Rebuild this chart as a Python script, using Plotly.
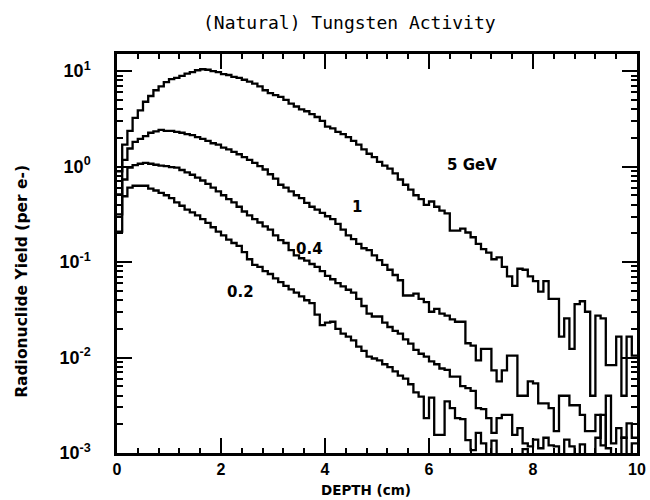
import math
import plotly.graph_objects as go

# Depth bins: 100 bins of 0.1 cm from 0 to 10 cm
bin_width = 0.1
n_bins = 100
depth_edges = [round(i * bin_width, 3) for i in range(n_bins + 1)]

# log10 of radionuclide yield (per e-) in each depth bin
log_yield_5gev = [
    -0.05, 0.23, 0.375, 0.51, 0.59, 0.68, 0.74, 0.80, 0.84, 0.885,
    0.917, 0.93, 0.95, 0.974, 0.99, 1.01, 1.02, 1.015, 1.00, 0.99,
    0.97, 0.96, 0.94, 0.93, 0.91, 0.89, 0.87, 0.84, 0.80, 0.77,
    0.75, 0.73, 0.70, 0.66, 0.63, 0.60, 0.58, 0.55, 0.52, 0.48,
    0.42, 0.40, 0.365, 0.34, 0.31, 0.27, 0.23, 0.18, 0.135, 0.10,
    0.05, 0.01, -0.02, -0.07, -0.135, -0.19, -0.24, -0.30, -0.34, -0.40,
    -0.365, -0.42, -0.46, -0.49, -0.67, -0.67, -0.65, -0.69, -0.74, -0.81,
    -0.865, -0.90, -0.97, -0.95, -1.05, -1.15, -1.25, -1.07, -1.08, -1.15,
    -1.20, -1.31, -1.20, -1.385, -1.385, -1.78, -1.59, -1.91, -1.44, -1.41,
    -1.52, -2.40, -1.56, -1.59, -2.08, -2.08, -1.78, -2.40, -1.78, -1.98,
]

log_yield_1gev = [
    -0.29, 0.07, 0.19, 0.26, 0.29, 0.32, 0.355, 0.37, 0.385, 0.375,
    0.375, 0.365, 0.355, 0.34, 0.33, 0.31, 0.29, 0.27, 0.245, 0.23,
    0.20, 0.18, 0.155, 0.13, 0.10, 0.07, 0.04, 0.005, -0.03, -0.08,
    -0.125, -0.19, -0.22, -0.26, -0.30, -0.33, -0.38, -0.42, -0.45, -0.485,
    -0.52, -0.55, -0.60, -0.66, -0.72, -0.76, -0.81, -0.855, -0.875, -0.93,
    -0.98, -1.03, -1.08, -1.135, -1.19, -1.35, -1.35, -1.33, -1.385, -1.42,
    -1.52, -1.49, -1.54, -1.56, -1.60, -1.625, -1.625, -1.85, -1.875, -2.03,
    -1.91, -1.91, -2.135, -2.25, -2.135, -1.98, -1.98, -2.40, -2.40, -2.25,
    -2.27, -2.48, -2.48, -2.53, -2.77, -2.40, -2.40, -2.50, -2.50, -2.60,
    -2.77, -2.77, -2.60, -2.92, -2.40, -2.90, -2.74, -2.84, -2.69, -2.84,
]

log_yield_04gev = [
    -0.50, -0.135, -0.01, 0.015, 0.03, 0.04, 0.03, 0.02, 0.01, 0.005,
    -0.005, -0.01, -0.035, -0.06, -0.085, -0.115, -0.145, -0.18, -0.22, -0.26,
    -0.30, -0.34, -0.375, -0.42, -0.47, -0.51, -0.55, -0.585, -0.625, -0.66,
    -0.72, -0.77, -0.80, -0.875, -0.93, -0.96, -0.985, -1.02, -1.05, -1.095,
    -1.145, -1.18, -1.22, -1.255, -1.29, -1.32, -1.385, -1.46, -1.54, -1.57,
    -1.57, -1.635, -1.68, -1.72, -1.75, -1.81, -1.855, -1.92, -1.96, -1.99,
    -2.04, -2.07, -2.115, -2.13, -2.20, -2.20, -2.30, -2.32, -2.35, -2.53,
    -2.54, -2.635, -2.79, -2.635, -2.60, -2.60, -2.81, -2.74, -2.90, -2.93,
    -2.86, -2.95, -2.84, -2.92, -2.93, -3.3, -2.86, -2.93, -3.3, -2.91,
    -3.3, -3.3, -2.84, -2.60, -2.95, -3.3, -3.3, -2.84, -3.3, -2.90,
]

log_yield_02gev = [
    -0.68, -0.31, -0.22, -0.20, -0.20, -0.20, -0.23, -0.25, -0.275, -0.30,
    -0.33, -0.375, -0.41, -0.45, -0.48, -0.51, -0.55, -0.59, -0.635, -0.68,
    -0.72, -0.765, -0.80, -0.83, -0.895, -0.97, -1.03, -1.05, -1.095, -1.125,
    -1.17, -1.21, -1.25, -1.285, -1.32, -1.36, -1.40, -1.43, -1.55, -1.66,
    -1.635, -1.625, -1.70, -1.75, -1.78, -1.82, -1.885, -1.93, -1.99, -2.01,
    -2.03, -2.07, -2.10, -2.145, -2.19, -2.22, -2.28, -2.365, -2.41, -2.635,
    -2.42, -2.81, -2.81, -2.46, -2.53, -2.635, -2.645, -2.865, -2.97, -2.79,
    -2.90, -3.3, -2.87, -3.3, -3.3, -3.3, -3.3, -3.3, -2.96, -3.3,
    -3.3, -3.3, -3.3, -3.3, -3.3, -3.3, -3.3, -3.3, -3.3, -3.3,
    -3.3, -3.3, -3.3, -3.3, -3.3, -3.3, -3.3, -3.3, -3.3, -3.3,
]

series_names = ["5 GeV", "1", "0.4", "0.2"]
series_logs = [log_yield_5gev, log_yield_1gev, log_yield_04gev, log_yield_02gev]

# Curve labels (depth cm, yield per e-)
label_text = ["5 GeV", "1", "0.4", "0.2"]
label_depth = [6.83, 4.62, 3.71, 2.37]
label_yield = [1.05, 0.38, 0.136, 0.049]

y_tick_vals = [1e-3, 1e-2, 1e-1, 1e0, 1e1]
y_tick_text = ["10<sup>-3</sup>", "10<sup>-2</sup>", "10<sup>-1</sup>",
               "10<sup>0</sup>", "10<sup>1</sup>"]
x_tick_vals = [0, 2, 4, 6, 8, 10]

fig = go.Figure()
for name, logs in zip(series_names, series_logs):
    yields = [10 ** v for v in logs]
    fig.add_trace(go.Scatter(
        x=depth_edges,
        y=yields + [yields[-1]],
        mode="lines",
        line=dict(shape="hv", color="black", width=2.3),
        name=name,
        showlegend=False,
    ))

for t, xd, yd in zip(label_text, label_depth, label_yield):
    fig.add_annotation(x=xd, y=math.log10(yd), text=t, showarrow=False,
                       xanchor="center", yanchor="middle",
                       font=dict(family="DejaVu Sans", size=15, color="black", weight="bold"))

fig.add_annotation(xref="paper", yref="paper", x=0.448, y=1.080,
                   xanchor="center", yanchor="middle",
                   text="(Natural) Tungsten Activity", showarrow=False,
                   font=dict(family="DejaVu Sans Mono", size=18, color="black"))
fig.add_annotation(xref="paper", yref="paper", x=0.479, y=-0.093,
                   xanchor="center", yanchor="middle",
                   text="DEPTH (cm)", showarrow=False,
                   font=dict(family="DejaVu Sans", size=13.5, color="black", weight="bold"))
fig.add_annotation(xref="paper", yref="paper", x=-0.183, y=0.431,
                   xanchor="center", yanchor="middle",
                   text="Radionuclide Yield (per e-)", showarrow=False, textangle=-90,
                   font=dict(family="DejaVu Sans", size=15.5, color="black", weight="bold"))

fig.update_layout(
    width=650, height=500,
    margin=dict(l=117, r=13, t=54, b=47, autoexpand=False),
    plot_bgcolor="white", paper_bgcolor="white",
    xaxis=dict(
        range=[0, 10], tickvals=x_tick_vals, automargin=False,
        ticks="inside", ticklen=15, tickwidth=1.5, tickcolor="black",
        showline=True, linewidth=2.5, linecolor="black", mirror="allticks",
        showgrid=False, zeroline=False,
        tickfont=dict(family="Liberation Sans", size=16, color="black", weight="bold"),
        minor=dict(dtick=0.4, tick0=0, ticks="inside", ticklen=5, tickwidth=1.5,
                   tickcolor="black", showgrid=False),
    ),
    yaxis=dict(
        type="log", range=[-3, 1.18], automargin=False,
        tickvals=y_tick_vals, ticktext=y_tick_text,
        ticks="inside", ticklen=15, tickwidth=1.5, tickcolor="black",
        showline=True, linewidth=2.5, linecolor="black", mirror="allticks",
        showgrid=False, zeroline=False, ticklabelstandoff=20,
        tickfont=dict(family="Liberation Sans", size=18, color="black", weight="bold"),
        minor=dict(dtick="D1", ticks="inside", ticklen=6, tickwidth=1.5,
                   tickcolor="black", showgrid=False),
    ),
)

fig.write_html(
    "out.html",
    config={"displayModeBar": False},
    post_script="document.body.style.margin='0';document.body.style.overflow='hidden';",
)
